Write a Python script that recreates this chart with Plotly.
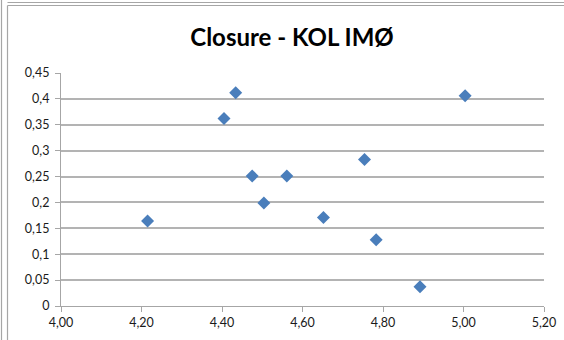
import plotly.graph_objects as go

# Closure measurements for KOL IMØ
x_values = [4.215, 4.434, 4.405, 4.475, 4.561, 4.504, 4.652, 4.754, 4.783, 4.892, 5.004]
y_values = [0.164, 0.412, 0.362, 0.251, 0.251, 0.199, 0.171, 0.283, 0.128, 0.037, 0.406]

title_text = "Closure - KOL IMØ"

W, H = 564, 340
ML, MR, MT, MB = 61, 20, 73, 34
PW, PH = W - ML - MR, H - MT - MB


def px(xp):
    return (xp - ML) / PW


def py(yp):
    return (H - MB - yp) / PH


fig = go.Figure(
    go.Scatter(
        x=x_values,
        y=y_values,
        mode="markers",
        marker=dict(symbol="diamond", size=10, color="#4a7ebb",
                    line=dict(width=0)),
        cliponaxis=False,
    )
)

frame = dict(type="line", xref="paper", yref="paper",
             line=dict(color="#a6a6a6", width=1.2), layer="above")
shapes = [
    dict(frame, x0=px(1.5), x1=px(1.5), y0=py(0), y1=py(H)),
    dict(frame, x0=px(7.5), x1=px(7.5), y0=py(5.5), y1=py(H)),
    dict(frame, x0=px(7.5), x1=px(W), y0=py(2.5), y1=py(2.5)),
    dict(frame, x0=px(7.5), x1=px(W), y0=py(5.5), y1=py(5.5)),
]

tick_font = dict(family="Lato, 'Open Sans', sans-serif", size=12.5, color="#1a1a1a")

fig.update_layout(
    width=W,
    height=H,
    margin=dict(l=ML, r=MR, t=MT, b=MB, autoexpand=False),
    paper_bgcolor="white",
    plot_bgcolor="white",
    separators=", ",
    showlegend=False,
    title=dict(
        text=f"<b>{title_text}</b>",
        font=dict(family="Lato, 'Open Sans', sans-serif", size=24, color="#000000"),
        x=px(292), xref="paper", xanchor="center",
        y=1 - 38 / H, yref="container", yanchor="middle",
    ),
    xaxis=dict(
        range=[4.0, 5.2],
        dtick=0.2,
        tick0=4.0,
        tickformat=".2f",
        showgrid=False,
        zeroline=False,
        showline=True,
        linecolor="#a6a6a6",
        linewidth=1.2,
        ticks="outside",
        ticklen=5,
        tickcolor="#a6a6a6",
        tickwidth=1.2,
        tickfont=tick_font,
        automargin=False,
        fixedrange=True,
    ),
    yaxis=dict(
        range=[0, 0.45],
        dtick=0.05,
        tick0=0,
        showgrid=True,
        gridcolor="#b3b3b3",
        gridwidth=1.5,
        zeroline=False,
        showline=True,
        linecolor="#a6a6a6",
        linewidth=1.2,
        ticks="outside",
        ticklen=5,
        tickcolor="#a6a6a6",
        tickwidth=1.2,
        tickfont=tick_font,
        ticklabelstandoff=3,
        automargin=False,
        fixedrange=True,
    ),
    shapes=shapes,
)

fig.write_html("out.html")
